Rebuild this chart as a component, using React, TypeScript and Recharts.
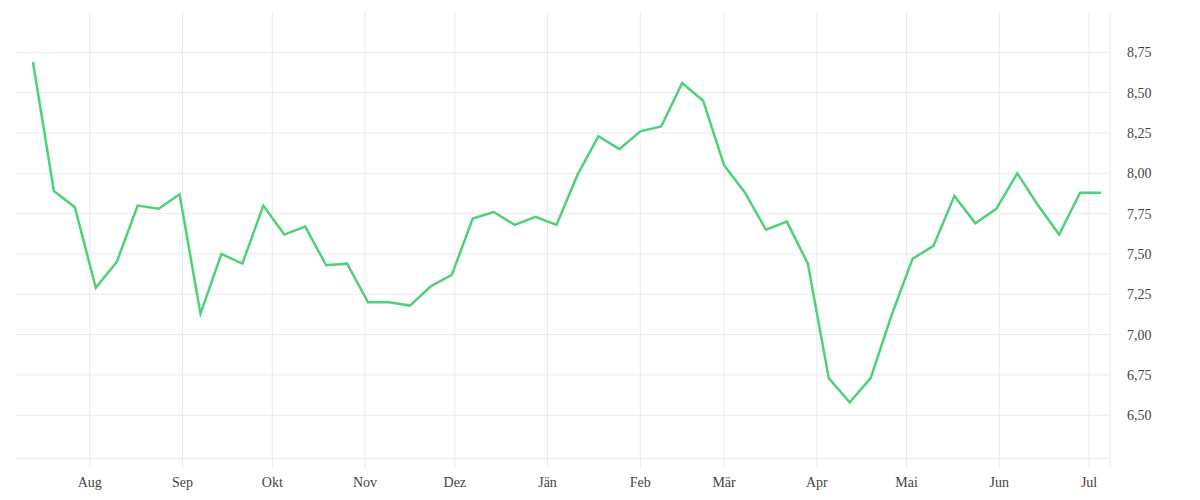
import {
  LineChart,
  Line,
  XAxis,
  YAxis,
  ReferenceLine,
} from "recharts";

// weekly dates (Jul 2024 – Jul 2025)
const dates = [
  "2024-07-13", "2024-07-20", "2024-07-27", "2024-08-03", "2024-08-10",
  "2024-08-17", "2024-08-24", "2024-08-31", "2024-09-07", "2024-09-14",
  "2024-09-21", "2024-09-28", "2024-10-05", "2024-10-12", "2024-10-19",
  "2024-10-26", "2024-11-02", "2024-11-09", "2024-11-16", "2024-11-23",
  "2024-11-30", "2024-12-07", "2024-12-14", "2024-12-21", "2024-12-28",
  "2025-01-04", "2025-01-11", "2025-01-18", "2025-01-25", "2025-02-01",
  "2025-02-08", "2025-02-15", "2025-02-22", "2025-03-01", "2025-03-08",
  "2025-03-15", "2025-03-22", "2025-03-29", "2025-04-05", "2025-04-12",
  "2025-04-19", "2025-04-26", "2025-05-03", "2025-05-10", "2025-05-17",
  "2025-05-24", "2025-05-31", "2025-06-07", "2025-06-14", "2025-06-21",
  "2025-06-28", "2025-07-05",
];

const values = [
  8.69, 7.89, 7.79, 7.29, 7.45, 7.8, 7.78, 7.87, 7.13, 7.5,
  7.44, 7.8, 7.62, 7.67, 7.43, 7.44, 7.2, 7.2, 7.18, 7.3,
  7.37, 7.72, 7.76, 7.68, 7.73, 7.68, 7.99, 8.23, 8.15, 8.26,
  8.29, 8.56, 8.45, 8.05, 7.88, 7.65, 7.7, 7.44, 6.73, 6.58,
  6.73, 7.12, 7.47, 7.55, 7.86, 7.69, 7.78, 8.0, 7.8, 7.62,
  7.88, 7.88,
];

const monthTicks = [
  "2024-08-01", "2024-09-01", "2024-10-01", "2024-11-01", "2024-12-01",
  "2025-01-01", "2025-02-01", "2025-03-01", "2025-04-01", "2025-05-01",
  "2025-06-01", "2025-07-01",
];
const monthLabels = [
  "Aug", "Sep", "Okt", "Nov", "Dez", "Jän", "Feb", "Mär", "Apr", "Mai", "Jun", "Jul",
];

const yTicks = [6.5, 6.75, 7, 7.25, 7.5, 7.75, 8, 8.25, 8.5, 8.75];

const ts = (d: string) => new Date(d + "T12:00:00Z").getTime();

const data = dates.map((d, i) => ({ t: ts(d), value: values[i] }));
const xTicks = monthTicks.map(ts);
const xDomain = [ts("2024-07-07"), ts("2025-07-08")];

const fmtMonth = (t: number) => monthLabels[xTicks.indexOf(t)] ?? "";
const fmtNum = (v: number) => v.toFixed(2).replace(".", ",");

const GRID = "#ebebeb";
const tickStyle = { fill: "#444", fontSize: 14, fontFamily: "'Liberation Serif', serif" };

export default function App() {
  return (
    <LineChart
      width={1184}
      height={484}
      data={data}
      margin={{ top: 4, right: 22, bottom: 0, left: 7 }}
    >
      {/* grid only at the tick values, no frame round the plot */}
      {xTicks.map((t) => (
        <ReferenceLine key={`x${t}`} x={t} stroke={GRID} strokeWidth={1} />
      ))}
      {yTicks.map((v) => (
        <ReferenceLine key={`y${v}`} y={v} stroke={GRID} strokeWidth={1} />
      ))}
      <ReferenceLine y={6.233} stroke={GRID} strokeWidth={1} />
      <XAxis
        dataKey="t"
        type="number"
        domain={xDomain}
        ticks={xTicks}
        tickFormatter={fmtMonth}
        axisLine={false}
        tickLine={false}
        tickSize={0}
        tickMargin={9}
        height={24}
        tick={tickStyle}
        interval={0}
      />
      <YAxis
        orientation="right"
        type="number"
        domain={[6.173, 9.0]}
        ticks={yTicks}
        tickFormatter={fmtNum}
        axisLine={{ stroke: GRID }}
        tickLine={false}
        tickSize={0}
        tickMargin={17}
        width={60}
        tick={tickStyle}
        allowDataOverflow
        interval={0}
      />
      <Line
        type="linear"
        dataKey="value"
        stroke="#4fd17b"
        strokeWidth={2.5}
        dot={false}
        isAnimationActive={false}
      />
    </LineChart>
  );
}
